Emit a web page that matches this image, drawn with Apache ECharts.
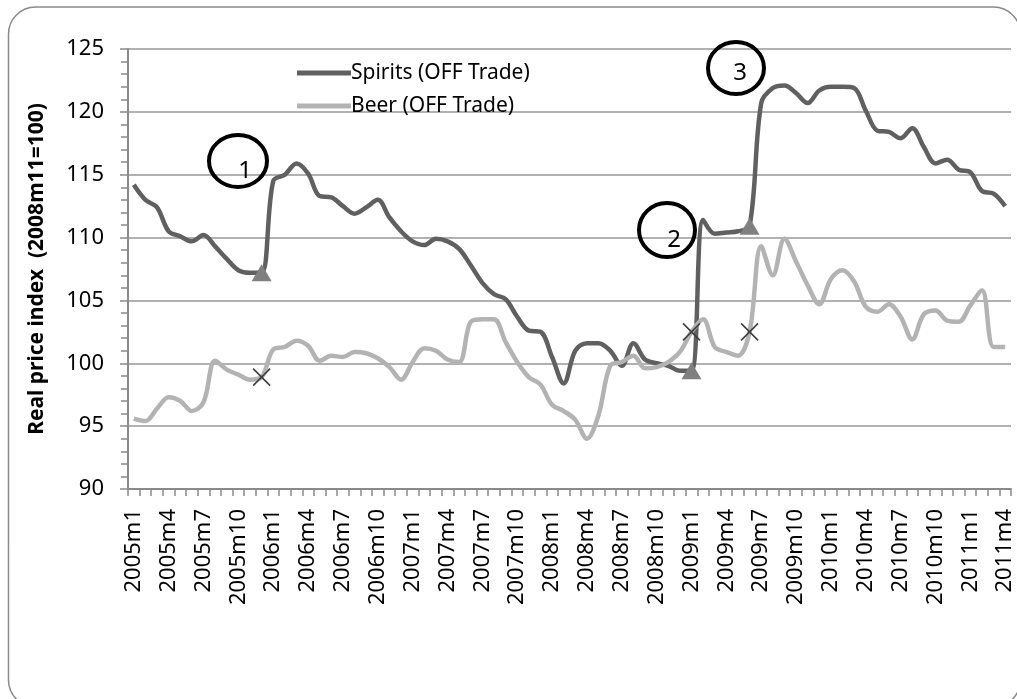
<!DOCTYPE html>
<html>
<head>
<meta charset="utf-8">
<script src="https://cdn.jsdelivr.net/npm/echarts@6/dist/echarts.min.js"></script>
<style>
    html, body {margin: 0; padding: 0; background: #fff;}
    #priceChart {width: 1017px; height: 699px;}
</style>
</head>
<body>
<div id="priceChart"></div>
<script>
// months 2005m1 .. 2011m4
const months = [];
for (let y = 2005; y <= 2011; y++) {
    for (let m = 1; m <= 12; m++) {
        if (y === 2011 && m > 4) break;
        months.push(y + 'm' + m);
    }
}

const spirits = [
    114.2, 113.0, 112.4, 110.5, 110.1, 109.7, 110.2, 109.3, 108.3, 107.4,
    107.2, 107.2, 114.5, 115.0, 115.9, 115.1, 113.3, 113.2, 112.5, 111.9,
    112.4, 113.0, 111.6, 110.5, 109.7, 109.4, 109.9, 109.7, 109.1, 107.8,
    106.4, 105.5, 105.1, 103.7, 102.6, 102.5, 100.5, 98.4, 101.0, 101.6,
    101.6, 101.0, 99.8, 101.6, 100.3, 100.0, 99.8, 99.4, 99.4, 111.4,
    110.3, 110.4, 110.5, 110.9, 120.7, 121.9, 122.1, 121.5, 120.7, 121.7,
    122.0, 122.0, 121.9, 120.1, 118.5, 118.4, 117.9, 118.7, 117.2, 115.9,
    116.2, 115.4, 115.2, 113.7, 113.5, 112.5
];

const beer = [
    95.6, 95.4, 96.4, 97.3, 97.0, 96.2, 96.9, 100.2, 99.5, 99.1,
    98.7, 98.9, 101.1, 101.3, 101.8, 101.4, 100.2, 100.6, 100.5, 100.9,
    100.8, 100.4, 99.7, 98.7, 100.1, 101.2, 101.0, 100.3, 100.1, 103.3,
    103.5, 103.5, 101.7, 100.1, 98.9, 98.3, 96.7, 96.2, 95.5, 94.0,
    95.9, 99.8, 100.1, 100.6, 99.6, 99.7, 100.1, 100.9, 102.5, 103.5,
    101.3, 100.9, 100.6, 102.5, 109.3, 107.0, 109.9, 108.1, 106.2, 104.7,
    106.7, 107.4, 106.5, 104.5, 104.1, 104.7, 103.7, 101.9, 103.9, 104.2,
    103.4, 103.3, 104.6, 105.8, 101.3, 101.3
];

// months marked on both lines (2005m12, 2009m1, 2009m6)
const markIdx = [11, 48, 53];
const yTicks = [90, 95, 100, 105, 110, 115, 120, 125];

const font = 'Noto Sans';
const axisGray = '#8a8a8a';

const chart = echarts.init(document.getElementById('priceChart'));

chart.setOption({
    animation: false,
    backgroundColor: '#fff',
    textStyle: {fontFamily: font},
    grid: {left: 128, right: 6, top: 49, bottom: 210, containLabel: false},
    legend: {
        data: ['Spirits (OFF Trade)', 'Beer (OFF Trade)'],
        orient: 'vertical',
        left: 292,
        top: 56,
        icon: 'rect',
        itemWidth: 54,
        itemHeight: 5,
        itemGap: 9,
        textStyle: {fontFamily: font, fontSize: 21, color: '#000', lineHeight: 24, padding: [0, 0, 0, -5]}
    },
    xAxis: {
        type: 'category',
        data: months,
        boundaryGap: true,
        axisLine: {lineStyle: {color: axisGray, width: 2}},
        axisTick: {show: true, interval: 0, length: 7, lineStyle: {color: axisGray, width: 1.5}},
        axisLabel: {
            interval: 2, rotate: 90, margin: 20,
            fontFamily: font, fontSize: 22, color: '#000'
        },
        splitLine: {show: false}
    },
    yAxis: {
        type: 'value',
        min: yTicks[0],
        max: yTicks[yTicks.length - 1],
        interval: 5,
        name: 'Real price index  (2008m11=100)',
        nameLocation: 'middle',
        nameGap: 80,
        nameTextStyle: {fontFamily: font, fontSize: 21, fontWeight: 'bold', color: '#000'},
        axisLine: {show: true, lineStyle: {color: axisGray, width: 2}},
        axisTick: {show: true, length: 8, lineStyle: {color: axisGray, width: 1.5}},
        minorTick: {show: true, splitNumber: 5, length: 7, lineStyle: {color: axisGray, width: 1.5}},
        axisLabel: {margin: 24, fontFamily: font, fontSize: 22, color: '#000'},
        splitLine: {show: true, lineStyle: {color: '#979797', width: 1.5}}
    },
    series: [
        {
            name: 'Spirits (OFF Trade)',
            type: 'line',
            data: spirits,
            smooth: 0.35,
            symbol: 'none',
            lineStyle: {color: '#606060', width: 4.5},
            itemStyle: {color: '#606060'}
        },
        {
            name: 'Beer (OFF Trade)',
            type: 'line',
            data: beer,
            smooth: 0.35,
            symbol: 'none',
            lineStyle: {color: '#b3b3b3', width: 4.5},
            itemStyle: {color: '#b3b3b3'}
        },
        {
            name: 'spiritsMarks',
            type: 'scatter',
            data: markIdx.map(i => [i, spirits[i]]),
            symbol: 'triangle',
            symbolSize: [20, 17],
            itemStyle: {color: '#808080', opacity: 1},
            z: 5
        },
        {
            name: 'beerMarks',
            type: 'scatter',
            data: markIdx.map(i => [i, beer[i]]),
            symbol: 'path://M0,0L10,10M10,0L0,10',
            symbolSize: 17,
            itemStyle: {color: 'transparent', borderColor: '#3f3f3f', borderWidth: 1.6, opacity: 1},
            z: 5
        }
    ],
    graphic: [
        {
            type: 'rect',
            shape: {x: 8.5, y: 7, width: 1012, height: 700, r: 27},
            style: {fill: 'none', stroke: axisGray, lineWidth: 1.5},
            silent: true, z: 0
        },
        {type: 'ellipse', shape: {cx: 238, cy: 161, rx: 29, ry: 26}, style: {fill: 'none', stroke: '#000', lineWidth: 4}, z: 10},
        {type: 'text', x: 245, y: 171, style: {text: '1', font: '24px "Noto Sans"', fill: '#000', align: 'center', verticalAlign: 'middle'}, z: 10},
        {type: 'ellipse', shape: {cx: 667, cy: 230, rx: 28, ry: 27}, style: {fill: 'none', stroke: '#000', lineWidth: 4}, z: 10},
        {type: 'text', x: 674, y: 240, style: {text: '2', font: '24px "Noto Sans"', fill: '#000', align: 'center', verticalAlign: 'middle'}, z: 10},
        {type: 'ellipse', shape: {cx: 736, cy: 68, rx: 28, ry: 26}, style: {fill: 'none', stroke: '#000', lineWidth: 4}, z: 10},
        {type: 'text', x: 740, y: 73, style: {text: '3', font: '24px "Noto Sans"', fill: '#000', align: 'center', verticalAlign: 'middle'}, z: 10}
    ]
});
</script>
</body>
</html>
